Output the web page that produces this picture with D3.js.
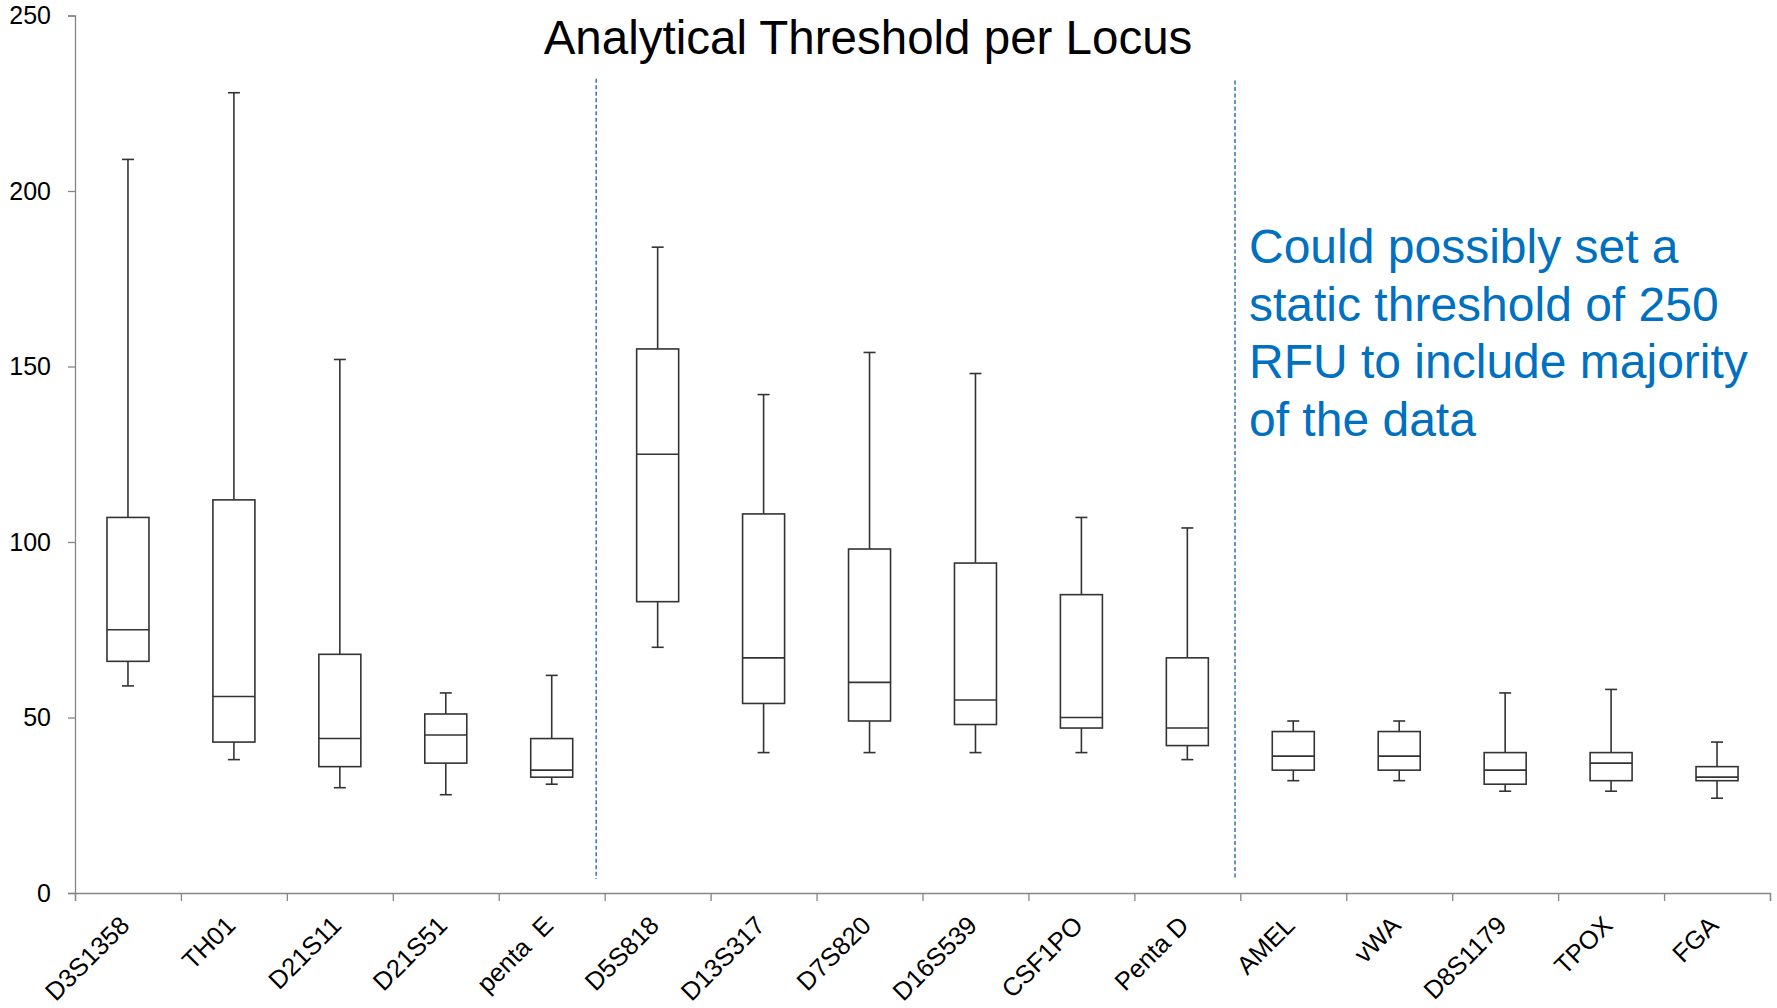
<!DOCTYPE html>
<html>
<head>
<meta charset="utf-8">
<script src="https://cdn.jsdelivr.net/npm/d3@7"></script>
<style>
  html, body { margin: 0; padding: 0; background: #ffffff; }
  svg { display: block; }
  text { font-family: "Liberation Sans", Arial, sans-serif; }
</style>
</head>
<body>
<svg id="chart" width="1777" height="1008"></svg>
<script>
// ---- Data ----
const loci = ["D3S1358","TH01","D21S11","D21S51","penta  E","D5S818","D13S317","D7S820","D16S539","CSF1PO","Penta D","AMEL","vWA","D8S1179","TPOX","FGA"];
const whiskerLow  = [59, 38, 30, 28, 31, 70, 40, 40, 40, 40, 38, 32, 32, 29, 29, 27];
const q1          = [66, 43, 36, 37, 33, 83, 54, 49, 48, 47, 42, 35, 35, 31, 32, 32];
const median      = [75, 56, 44, 45, 35, 125, 67, 60, 55, 50, 47, 39, 39, 35, 37, 33];
const q3          = [107, 112, 68, 51, 44, 155, 108, 98, 94, 85, 67, 46, 46, 40, 40, 36];
const whiskerHigh = [209, 228, 152, 57, 62, 184, 142, 154, 148, 107, 104, 49, 49, 57, 58, 43];
const yTicks = [0, 50, 100, 150, 200, 250];
// group separators (in category-boundary units) and their vertical extent (in RFU)
const separatorPos = [4.92, 10.95];
const separatorTop = [232, 231.5];
const separatorBottom = 4;
const titleText = "Analytical Threshold per Locus";
const noteLines = ["Could possibly set a", "static threshold of 250", "RFU to include majority", "of the data"];

// ---- Layout ----
const svg = d3.select("#chart");
const mLeft = 75, mRight = 1770, mTop = 15.5, mBottom = 893;

const x = d3.scaleBand().domain(loci).range([mLeft, mRight]).paddingInner(0).paddingOuter(0);
const xb = d3.scaleLinear().domain([0, loci.length]).range([mLeft, mRight]);
const y = d3.scaleLinear().domain([0, 250]).range([mBottom, mTop]);

const axisColor = "#868686";

// Y axis
const yAxis = svg.append("g")
  .attr("transform", `translate(${mLeft},0)`)
  .call(d3.axisLeft(y).tickValues(yTicks).tickSize(7).tickPadding(17).tickFormat(d3.format("d")));
yAxis.select(".domain").attr("stroke", axisColor).attr("stroke-width", 1.3);
yAxis.selectAll(".tick line").attr("stroke", axisColor).attr("stroke-width", 1.3);
yAxis.selectAll(".tick text").attr("fill", "#000").attr("font-size", 25)
  .attr("font-family", "Liberation Sans, Arial, sans-serif");

// X axis boundary ticks
const xAxis = svg.append("g")
  .attr("transform", `translate(0,${mBottom})`)
  .call(d3.axisBottom(xb).tickValues(d3.range(0, loci.length + 1)).tickSize(8).tickFormat(""));
xAxis.select(".domain").attr("stroke", axisColor).attr("stroke-width", 1.3);
xAxis.selectAll(".tick line").attr("stroke", axisColor).attr("stroke-width", 1.3);

// X labels (rotated)
const xLab = svg.append("g")
  .attr("transform", `translate(0,${mBottom})`)
  .call(d3.axisBottom(x).tickSize(0).tickPadding(0));
xLab.select(".domain").remove();
xLab.selectAll(".tick text")
  .attr("font-size", 25.5)
  .attr("fill", "#000")
  .attr("font-family", "Liberation Sans, Arial, sans-serif")
  .style("white-space", "pre")
  .attr("text-anchor", "end")
  .attr("dy", null)
  .attr("y", 0)
  .attr("transform", "translate(3,34) rotate(-45)");

// Separators
svg.append("g").selectAll("line").data(separatorPos).join("line")
  .attr("x1", d => xb(d)).attr("x2", d => xb(d))
  .attr("y1", (d, i) => y(separatorTop[i])).attr("y2", y(separatorBottom))
  .attr("stroke", "#3f78c2").attr("stroke-width", 1.6).attr("stroke-dasharray", "4,2.5");

// Boxplots
const boxW = 42, capW = 12;
const stroke = "#333333";
const g = svg.append("g");
loci.forEach((name, i) => {
  const cx = x(name) + x.bandwidth() / 2;
  g.append("line").attr("x1", cx).attr("x2", cx).attr("y1", y(q3[i])).attr("y2", y(whiskerHigh[i]))
    .attr("stroke", stroke).attr("stroke-width", 1.6);
  g.append("line").attr("x1", cx).attr("x2", cx).attr("y1", y(q1[i])).attr("y2", y(whiskerLow[i]))
    .attr("stroke", stroke).attr("stroke-width", 1.6);
  g.append("line").attr("x1", cx - capW / 2).attr("x2", cx + capW / 2).attr("y1", y(whiskerHigh[i])).attr("y2", y(whiskerHigh[i]))
    .attr("stroke", stroke).attr("stroke-width", 1.6);
  g.append("line").attr("x1", cx - capW / 2).attr("x2", cx + capW / 2).attr("y1", y(whiskerLow[i])).attr("y2", y(whiskerLow[i]))
    .attr("stroke", stroke).attr("stroke-width", 1.6);
  g.append("rect").attr("x", cx - boxW / 2).attr("width", boxW)
    .attr("y", y(q3[i])).attr("height", y(q1[i]) - y(q3[i]))
    .attr("fill", "#fff").attr("stroke", stroke).attr("stroke-width", 1.6);
  g.append("line").attr("x1", cx - boxW / 2).attr("x2", cx + boxW / 2).attr("y1", y(median[i])).attr("y2", y(median[i]))
    .attr("stroke", stroke).attr("stroke-width", 1.6);
});

// Title
svg.append("text").attr("x", 868).attr("y", 54).attr("text-anchor", "middle")
  .attr("font-size", 47.5).attr("fill", "#000").text(titleText);

// Annotation
svg.append("g").selectAll("text").data(noteLines).join("text")
  .attr("x", 1249).attr("y", (d, i) => 263 + i * 57.6)
  .attr("font-size", 48).attr("fill", "#0070C0").text(d => d);
</script>
</body>
</html>
